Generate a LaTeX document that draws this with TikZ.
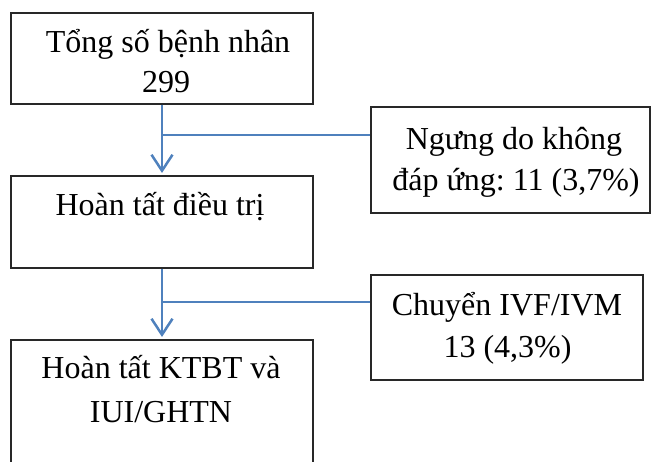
\documentclass[tikz,border=0pt]{standalone}
\usepackage{fontspec}
\setmainfont{Liberation Serif}
\frenchspacing
\usetikzlibrary{arrows.meta}
\definecolor{flowblue}{RGB}{79,129,189}
\definecolor{boxline}{RGB}{40,40,40}
\begin{document}
\begin{tikzpicture}[x=1pt,y=-1pt,
  box/.style={draw=boxline,line width=1.3pt,rectangle,inner sep=0pt},
  txt/.style={inner sep=0pt,anchor=base,font=\fontsize{32}{40}\selectfont},
  flow/.style={draw=flowblue,line width=2.5pt},
  flowarrow/.style={flow,-{Straight Barb[length=16pt,width=21pt,line width=2.5pt]}}]
\useasboundingbox (0,0) rectangle (652,462);
\clip (0,0) rectangle (652,462);

% main column
\node[box,minimum width=302pt,minimum height=91pt] (b1) at (162,58.5) {};
\node[box,minimum width=302pt,minimum height=92pt] (b2) at (162,222) {};
\node[box,minimum width=302pt,minimum height=170pt] (b3) at (162,425) {};

% side boxes
\node[box,minimum width=279pt,minimum height=106pt] (ngung) at (510.5,160) {};
\node[box,minimum width=272pt,minimum height=105pt] (chuyen) at (507,327.5) {};

% texts
\node[txt] (t1a) at (168,53) {Tổng số bệnh nhân};
\node[txt] (t1b) at (166,93) {299};
\node[txt] (t2) at (160,215) {Hoàn tất điều trị};
\node[txt] (t3a) at (161,378) {Hoàn tất KTBT và};
\node[txt] (t3b) at (161,422) {IUI/GHTN};
\node[txt] (tna) at (514,150) {Ngưng do không};
\node[txt] (tnb) at (516,190) {đáp ứng: 11 (3,7\%)};
\node[txt] (tca) at (507,315) {Chuyển IVF/IVM};
\node[txt] (tcb) at (507.5,357) {13 (4,3\%)};

% connectors
\coordinate (j1) at (162,135);
\coordinate (j2) at (162,302);
\coordinate (e1) at (162,173);
\coordinate (e2) at (162,337);
\draw[flowarrow] (b1.south) -- (e1);
\draw[flow] (j1) -- (j1 -| ngung.west);
\draw[flowarrow] (b2.south) -- (e2);
\draw[flow] (j2) -- (j2 -| chuyen.west);
\end{tikzpicture}
\end{document}
